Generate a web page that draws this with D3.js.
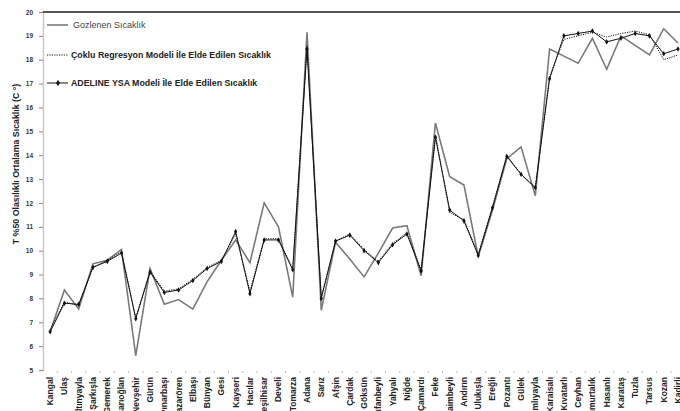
<!DOCTYPE html>
<html>
<head>
<meta charset="utf-8">
<script src="https://cdn.jsdelivr.net/npm/d3@7"></script>
<style>
  html, body { margin: 0; padding: 0; background: #fff; }
  svg { display: block; font-family: "Liberation Sans", Arial, sans-serif; }
</style>
</head>
<body>
<svg id="chart" width="680" height="411"></svg>
<script>
// Stations along the x axis
const stations = ["Kangal","Ulaş","Altınyayla","Şarkışla","Gemerek","Sarıoğlan","Nevşehir","Gürün","Pınarbaşı","Pazarören",
  "Elbaşı","Bünyan","Gesi","Kayseri","Hacılar","Yeşilhisar","Develi","Tomarza","Adana","Sarız",
  "Afşin","Çardak","Göksün","Tufanbeyli","Yahyalı","Niğde","Çamardı","Feke","Saimbeyli","Andırın",
  "Ulukışla","Ereğli","Pozantı","Gülek","Çamlıyayla","Karaisalı","Kıvatarlı","Ceyhan","Yumurtalık","Hasanlı",
  "Karataş","Tuzla","Tarsus","Kozan","Kadirli"];

// Observed temperature
const observed = [6.6, 8.35, 7.55, 9.45, 9.6, 10.05, 5.6, 9.25, 7.75, 7.95,
  7.55, 8.7, 9.6, 10.45, 9.5, 12.0, 11.0, 8.05, 19.15, 7.5,
  10.35, 9.65, 8.9, 9.9, 10.95, 11.05, 8.95, 15.35, 13.1, 12.75,
  9.75, 11.7, 13.85, 14.35, 12.3, 18.45, 18.15, 17.85, 18.9, 17.6,
  19.0, 18.6, 18.2, 19.3, 18.7];

// Multiple regression model
const regression = [6.7, 7.85, 7.7, 9.3, 9.6, 9.95, 7.2, 9.15, 8.3, 8.4,
  8.8, 9.3, 9.6, 10.7, 8.3, 10.5, 10.5, 9.25, 18.6, 8.05,
  10.4, 10.7, 10.05, 9.55, 10.3, 10.75, 9.2, 14.85, 11.6, 11.3,
  9.85, 11.85, 14.0, 13.2, 12.6, 17.3, 18.85, 19.0, 19.15, 18.95,
  19.1, 19.2, 19.05, 18.0, 18.2];

// ADELINE neural network model
const adeline = [6.6, 7.8, 7.75, 9.3, 9.55, 9.9, 7.15, 9.1, 8.25, 8.35,
  8.75, 9.25, 9.55, 10.8, 8.2, 10.45, 10.45, 9.2, 18.45, 8.0,
  10.4, 10.65, 10.0, 9.5, 10.25, 10.7, 9.15, 14.75, 11.7, 11.25,
  9.8, 11.8, 13.95, 13.2, 12.65, 17.2, 19.0, 19.1, 19.2, 18.75,
  18.9, 19.1, 19.0, 18.25, 18.45];

const yTicks = [5,6,7,8,9,10,11,12,13,14,15,16,17,18,19,20];

const legendLabels = ["Gozlenen Sıcaklık",
  "Çoklu Regresyon Modeli İle Elde Edilen Sıcaklık",
  "ADELINE YSA Modeli İle Elde Edilen Sıcaklık"];

const yTitle = "T %50 Olasılıklı Ortalama Sıcaklık (C °)";

const svg = d3.select("#chart");
const plotLeft = 43, plotTop = 12, plotBottom = 370;
const step = 14.27;

const x = d3.scaleBand().domain(stations).range([plotLeft, plotLeft + step * stations.length]).padding(0);
const y = d3.scaleLinear().domain([5, 20]).range([plotBottom, plotTop]);
const cx = d => x(d) + x.bandwidth() / 2;

// y axis
const yAxis = svg.append("g").attr("transform", `translate(${plotLeft},0)`)
  .call(d3.axisLeft(y).tickValues(yTicks).tickSize(4).tickPadding(6));
yAxis.select(".domain").attr("stroke", "#c8c8c8").attr("stroke-width", 1.5);
yAxis.selectAll(".tick line").attr("stroke", "#888");
yAxis.selectAll(".tick text").attr("font-size", 6.5).attr("font-weight", "bold").attr("fill", "#333")
  .attr("font-family", "'Liberation Sans', Arial, sans-serif");

// x axis: boundary ticks, rotated labels
const xAxis = svg.append("g").attr("transform", `translate(0,${plotBottom})`)
  .call(d3.axisBottom(x).tickSize(0).tickPadding(0));
xAxis.select(".domain").remove();
xAxis.selectAll(".tick text")
  .attr("transform", "rotate(-90)")
  .attr("text-anchor", "end")
  .attr("x", -7).attr("y", 0).attr("dy", "0.35em")
  .attr("font-size", 8.5).attr("font-weight", "bold").attr("fill", "#222")
  .attr("font-family", "'Liberation Sans', Arial, sans-serif");
svg.append("g").selectAll("line").data(stations).join("line")
  .attr("x1", d => x(d) + x.bandwidth()).attr("x2", d => x(d) + x.bandwidth())
  .attr("y1", plotBottom + 1).attr("y2", plotBottom + 3)
  .attr("stroke", "#bbb").attr("stroke-width", 1);

// top border line at 20
svg.append("line").attr("x1", plotLeft).attr("x2", 680).attr("y1", y(20)).attr("y2", y(20))
  .attr("stroke", "#555").attr("stroke-width", 2);

// y axis title
svg.append("text")
  .attr("transform", `translate(19,${(plotTop + plotBottom) / 2 - 27}) rotate(-90)`)
  .attr("text-anchor", "middle")
  .attr("font-size", 8.8).attr("font-weight", "bold").attr("fill", "#222")
  .text(yTitle);

const line = vals => d3.line().x((d, i) => cx(stations[i])).y(d => y(d))(vals);

// observed
svg.append("path").attr("d", line(observed)).attr("fill", "none")
  .attr("stroke", "#7a7a7a").attr("stroke-width", 1.6);
// regression (dotted)
svg.append("path").attr("d", line(regression)).attr("fill", "none")
  .attr("stroke", "#111").attr("stroke-width", 1).attr("stroke-dasharray", "1.2,1.2");
// ADELINE with markers
svg.append("path").attr("d", line(adeline)).attr("fill", "none")
  .attr("stroke", "#111").attr("stroke-width", 1);
svg.append("g").selectAll("path").data(adeline).join("path")
  .attr("d", d3.symbol().type(d3.symbolDiamond).size(9))
  .attr("transform", (d, i) => `translate(${cx(stations[i])},${y(d)})`)
  .attr("fill", "#111");

// legend
const lg = svg.append("g");
const ly = [25, 55, 83];
lg.append("line").attr("x1", 47).attr("x2", 68).attr("y1", ly[0]).attr("y2", ly[0])
  .attr("stroke", "#7a7a7a").attr("stroke-width", 1.6);
lg.append("line").attr("x1", 47).attr("x2", 68).attr("y1", ly[1]).attr("y2", ly[1])
  .attr("stroke", "#111").attr("stroke-width", 1).attr("stroke-dasharray", "1.2,1.2");
lg.append("line").attr("x1", 47).attr("x2", 68).attr("y1", ly[2]).attr("y2", ly[2])
  .attr("stroke", "#111").attr("stroke-width", 1);
lg.append("path").attr("d", d3.symbol().type(d3.symbolDiamond).size(12))
  .attr("transform", `translate(58,${ly[2]})`).attr("fill", "#111");
lg.selectAll("text").data(legendLabels).join("text")
  .attr("x", (d, i) => i === 0 ? 73 : 71).attr("y", (d, i) => ly[i]).attr("dy", "0.35em")
  .attr("font-size", (d, i) => i === 0 ? 9 : 8.8)
  .attr("font-weight", (d, i) => i === 0 ? "normal" : "bold")
  .attr("fill", (d, i) => i === 0 ? "#444" : "#222")
  .text(d => d);
</script>
</body>
</html>
